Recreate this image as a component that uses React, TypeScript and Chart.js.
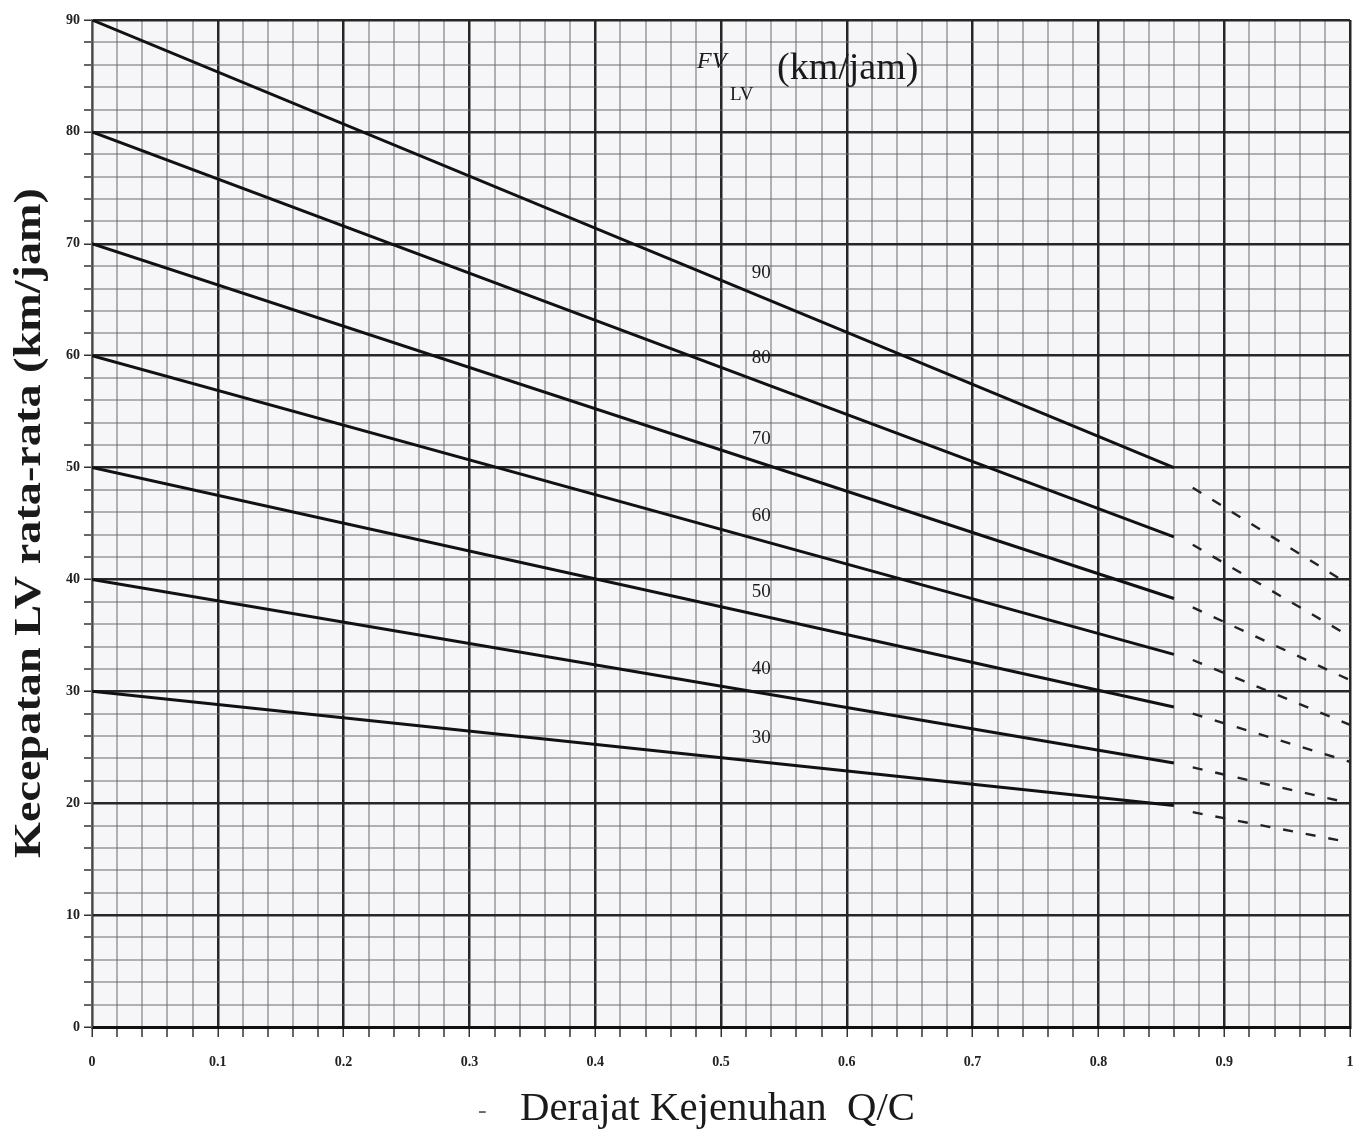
import React, { useEffect, useRef } from "react";
import { Chart, registerables } from "chart.js";

Chart.register(...registerables);

// ---- data ----
const FV_LABELS = ["90", "80", "70", "60", "50", "40", "30"];
const SOLID_X = [0, 0.86];
const SOLID_START_VALUES = [90, 80, 70, 60, 50, 40, 30];
const SOLID_END_VALUES = [50.0, 43.8, 38.3, 33.3, 28.6, 23.6, 19.8];
const DASH_X = [0.875, 1.0];
const DASH_START_VALUES = [48.2, 43.1, 37.5, 32.8, 28.0, 23.2, 19.2];
const DASH_END_VALUES = [39.5, 34.9, 31.0, 27.0, 23.7, 20.0, 16.5];
const X_TICK_LABELS = ["0", "0.1", "0.2", "0.3", "0.4", "0.5", "0.6", "0.7", "0.8", "0.9", "1"];
const Y_TICK_LABELS = ["0", "10", "20", "30", "40", "50", "60", "70", "80", "90"];
const LINE_LABEL_X = 0.532;
const X_TITLE = "Derajat Kejenuhan  Q/C";
const Y_TITLE = "Kecepatan LV rata-rata (km/jam)";

const W = 1363;
const H = 1130;

const isMajorX = (v: number) => Math.abs(v * 10 - Math.round(v * 10)) < 1e-6;
const isMajorY = (v: number) => Math.abs(v / 10 - Math.round(v / 10)) < 1e-6;

const MAJOR = "#262626";
const MINOR = "rgba(105,105,110,0.5)";

const overlay = {
  id: "overlay",
  beforeDraw(chart: any) {
    const { ctx } = chart;
    ctx.save();
    ctx.fillStyle = "#ffffff";
    ctx.fillRect(0, 0, chart.width, chart.height);
    const a = chart.chartArea;
    ctx.fillStyle = "#f6f6f8";
    ctx.fillRect(a.left, a.top, a.right - a.left, a.bottom - a.top);
    ctx.restore();
  },
  afterDraw(chart: any) {
    const { ctx, scales } = chart;
    const xs = scales.x;
    const ys = scales.y;
    ctx.save();
    ctx.fillStyle = "#1a1a1a";

    // line labels
    ctx.font = '19px "Liberation Serif", serif';
    ctx.textAlign = "center";
    ctx.textBaseline = "alphabetic";
    FV_LABELS.forEach((lab, i) => {
      const t = LINE_LABEL_X / SOLID_X[1];
      const v = SOLID_START_VALUES[i] + (SOLID_END_VALUES[i] - SOLID_START_VALUES[i]) * t;
      const px = xs.getPixelForValue(LINE_LABEL_X);
      const py = ys.getPixelForValue(v) - 19;
      ctx.fillText(lab, px, py);
    });

    // legend label
    ctx.textAlign = "left";
    ctx.font = 'italic 24px "Liberation Serif", serif';
    ctx.fillText("FV", 697, 68);
    ctx.font = '19px "Liberation Serif", serif';
    ctx.fillText("LV", 730, 100);
    ctx.font = '38px "Liberation Serif", serif';
    ctx.fillText("(km/jam)", 777, 79);

    // x title
    ctx.font = '40px "Liberation Serif", serif';
    const xw = ctx.measureText(X_TITLE).width;
    ctx.save();
    ctx.translate(520, 1120);
    ctx.scale(395 / xw, 1);
    ctx.fillText(X_TITLE, 0, 0);
    ctx.restore();
    ctx.font = '26px "Liberation Serif", serif';
    ctx.fillStyle = "#666";
    ctx.fillText("-", 478, 1118);
    ctx.fillStyle = "#1a1a1a";

    // y title
    ctx.font = 'bold 38px "Liberation Serif", serif';
    const yw = ctx.measureText(Y_TITLE).width;
    ctx.save();
    ctx.translate(30, 523);
    ctx.rotate(-Math.PI / 2);
    ctx.scale(670 / yw, 1);
    ctx.textAlign = "center";
    ctx.textBaseline = "middle";
    ctx.fillText(Y_TITLE, 0, 0);
    ctx.restore();

    ctx.restore();
  },
};

export default function App() {
  const ref = useRef<HTMLCanvasElement | null>(null);

  useEffect(() => {
    if (!ref.current) return;
    const datasets: any[] = [];
    FV_LABELS.forEach((lab, i) => {
      datasets.push({
        label: "FV " + lab,
        data: [
          { x: SOLID_X[0], y: SOLID_START_VALUES[i] },
          { x: SOLID_X[1], y: SOLID_END_VALUES[i] },
        ],
        borderColor: "#111111",
        borderWidth: 3,
        pointRadius: 0,
        tension: 0,
      });
      datasets.push({
        label: "FV " + lab + " ext",
        data: [
          { x: DASH_X[0], y: DASH_START_VALUES[i] },
          { x: DASH_X[1], y: DASH_END_VALUES[i] },
        ],
        borderColor: "#222222",
        borderWidth: 2.4,
        borderDash: [10, 13],
        pointRadius: 0,
        tension: 0,
      });
    });

    const tickFont = { family: '"Liberation Serif", serif', size: 14, weight: "bold" as const };

    const chart = new Chart(ref.current, {
      type: "line",
      data: { datasets },
      plugins: [overlay],
      options: {
        animation: false,
        responsive: false,
        layout: { padding: { top: 20, right: 13, left: 0, bottom: 0 } },
        plugins: {
          legend: { display: false },
          tooltip: { enabled: false },
          title: { display: false },
        },
        scales: {
          x: {
            type: "linear",
            min: 0,
            max: 1,
            afterFit: (s: any) => {
              s.height = H - 1027;
              s.paddingLeft = 0;
              s.paddingRight = 0;
            },
            ticks: {
              stepSize: 0.02,
              autoSkip: false,
              maxRotation: 0,
              padding: 17,
              color: "#222",
              font: tickFont,
              callback: (v: any) => {
                const n = Number(v);
                return isMajorX(n) ? X_TICK_LABELS[Math.round(n * 10)] : "";
              },
            },
            grid: {
              color: (c: any) => (c.tick && isMajorX(c.tick.value) ? MAJOR : MINOR),
              lineWidth: (c: any) => (c.tick && isMajorX(c.tick.value) ? 2.5 : 2),
              tickColor: "#333",
              tickLength: 10,
              tickWidth: 1.5,
            },
            border: {
              display: true,
              color: "#111",
              width: 3,
            },
          },
          y: {
            type: "linear",
            min: 0,
            max: 90,
            afterFit: (s: any) => {
              s.width = 92;
              s.paddingTop = 0;
              s.paddingBottom = 0;
            },
            ticks: {
              stepSize: 2,
              autoSkip: false,
              padding: 4,
              color: "#222",
              font: tickFont,
              callback: (v: any) => {
                const n = Number(v);
                return isMajorY(n) ? Y_TICK_LABELS[Math.round(n / 10)] : "";
              },
            },
            grid: {
              color: (c: any) => (c.tick && isMajorY(c.tick.value) ? MAJOR : MINOR),
              lineWidth: (c: any) => (c.tick && isMajorY(c.tick.value) ? 2.5 : 2),
              tickColor: "#333",
              tickLength: 8,
              tickWidth: 1.5,
            },
            border: {
              display: true,
              color: "#666",
              width: 1.5,
            },
          },
        },
      } as any,
    });
    return () => chart.destroy();
  }, []);

  return (
    <div style={{ position: "absolute", left: 0, top: 0, width: W, height: H, background: "#fff" }}>
      <canvas ref={ref} width={W} height={H} style={{ display: "block" }} />
    </div>
  );
}
